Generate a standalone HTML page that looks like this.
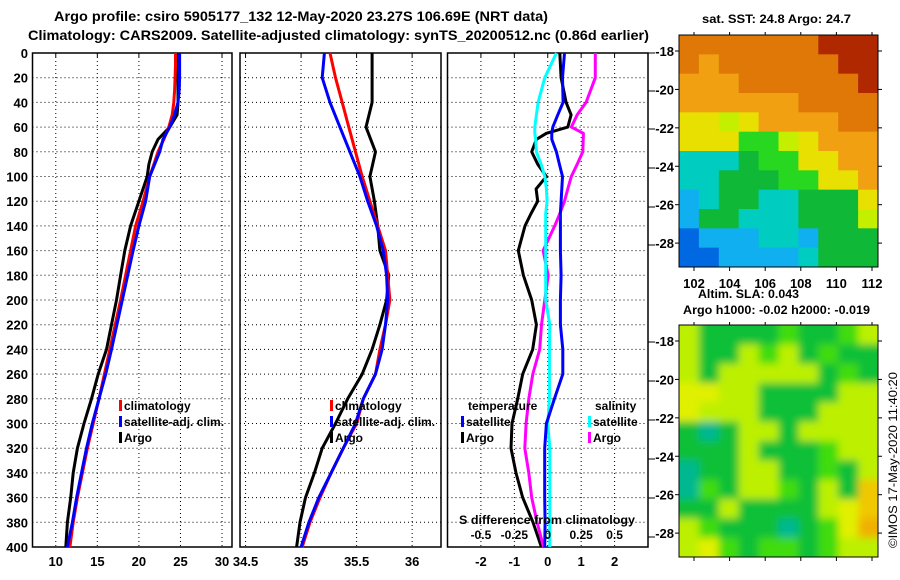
<!DOCTYPE html>
<html><head><meta charset="utf-8"><style>
body{margin:0;background:#fff}
svg{display:block;font-family:"Liberation Sans",sans-serif;font-weight:bold}
text{fill:#000}
</style></head><body>
<svg id="s" width="900" height="580" viewBox="0 0 900 580" xmlns="http://www.w3.org/2000/svg">
<defs>
<filter id="bl" x="-0.1" y="-0.1" width="1.2" height="1.2"><feGaussianBlur stdDeviation="4"/></filter>
<clipPath id="cl2"><rect x="679" y="325" width="199" height="232"/></clipPath>
</defs>
<rect width="900" height="580" fill="#fff"/>
<text x="54" y="21" font-size="14" textLength="494" lengthAdjust="spacingAndGlyphs">Argo profile: csiro 5905177_132 12-May-2020 23.27S 106.69E (NRT data)</text>
<text x="28" y="40" font-size="14" textLength="621" lengthAdjust="spacingAndGlyphs">Climatology: CARS2009. Satellite-adjusted climatology: synTS_20200512.nc (0.86d earlier)</text>
<g id="g"></g>
</svg>
<script>
// ---- Panel 1: temperature ----
const depthT=[0,10,20,30,40,50,60,70,80,90,100,120,140,160,180,200,220,240,260,280,300,320,340,360,380,400];
const tClim=[24.4,24.4,24.35,24.3,24.2,24.0,23.6,23.0,22.3,21.8,21.3,20.5,19.6,19.0,18.4,17.8,17.15,16.5,15.85,15.2,14.5,13.8,13.2,12.6,12.1,11.7];
const tSat=[24.9,24.9,24.9,24.85,24.7,24.3,23.7,22.9,22.5,21.9,21.3,20.8,20.0,19.3,18.65,18.0,17.35,16.7,16.0,15.2,14.4,13.7,13.1,12.5,12.0,11.4];
const tArgo=[24.7,24.7,24.7,24.7,24.7,24.6,23.7,22.3,21.6,21.2,21.0,20.0,19.0,18.3,17.8,17.3,16.7,16.1,15.1,14.3,13.4,12.6,12.1,11.8,11.4,11.2];
const tTicks=[10,15,20,25,30];
// ---- Panel 2: salinity ----
const depthS=[0,20,40,60,80,100,120,140,160,180,200,220,240,260,280,300,320,340,360,380,400];
const sClim=[35.26,35.31,35.37,35.43,35.49,35.55,35.62,35.69,35.76,35.78,35.80,35.76,35.71,35.67,35.56,35.50,35.38,35.27,35.17,35.08,35.01];
const sSat=[35.21,35.19,35.26,35.35,35.44,35.53,35.60,35.68,35.74,35.77,35.78,35.76,35.73,35.67,35.56,35.49,35.38,35.27,35.16,35.07,35.0];
const sArgo=[35.64,35.64,35.64,35.585,35.67,35.62,35.66,35.69,35.71,35.79,35.77,35.71,35.64,35.55,35.42,35.31,35.19,35.12,35.04,34.99,34.96];
const sTicks=[34.5,35,35.5,36];
// ---- Panel 3: differences ----
const depthD=[0,20,40,50,60,65,70,80,90,100,110,120,130,140,160,180,200,220,240,260,280,300,320,340,360,380,400];
const dTSat=[0.5,0.44,0.46,0.3,0.15,0.12,0.12,0.26,0.35,0.44,0.42,0.4,0.38,0.38,0.38,0.4,0.38,0.38,0.45,0.45,0.2,-0.04,-0.09,-0.09,-0.09,-0.08,-0.09];
const dTArgo=[0.36,0.4,0.55,0.7,0.6,-0.04,-0.34,-0.48,-0.3,-0.04,-0.35,-0.3,-0.5,-0.68,-0.88,-0.73,-0.48,-0.34,-0.45,-0.75,-0.9,-1.07,-1.1,-0.95,-0.75,-0.44,-0.19];
const dSSat=[0.065,-0.022,-0.072,-0.085,-0.097,-0.097,-0.09,-0.085,-0.05,-0.022,-0.01,-0.005,-0.015,-0.015,-0.015,-0.015,-0.015,0.015,0.012,0.012,0.012,0,0.015,0.015,0.015,0.015,0.015];
const dSArgo=[0.356,0.356,0.287,0.22,0.176,0.267,0.265,0.262,0.22,0.176,0.15,0.125,0.09,0.052,-0.035,0.003,-0.022,-0.047,-0.06,-0.112,-0.142,-0.162,-0.172,-0.142,-0.12,-0.08,-0.032];
const dTicks=[-2,-1,0,1,2];
const dSTicks=["-0.5","-0.25","0","0.25","0.5"];
const depthTicks=[0,20,40,60,80,100,120,140,160,180,200,220,240,260,280,300,320,340,360,380,400];
// ---- maps ----
const sstGrid=["OOOOOOORRR","OoOOOOOORR","oooOOOOOOR","ooooooOOOO","YYyYooooOO","YYYggyYooo","CCCGggYYoo","CCGGGggYYo","BCGGCCGGGY","BGGCCCGGGy","DBBBCCBGGG","DDBBBBCGGG"];
const slaGrid=["yGGGGgGGgy","yGGygyGgGG","yGyyyyyGgG","YYyyGGGGyy","YyyyGGGyyy","GCGyyGyyyy","GGGyGGGgyy","CGGyyGGgGy","CgGyygGyGo","GGyGGGGyYo","ygGGGCGgYO","yYgGggGgyy"];
const lonTicks=[102,104,106,108,110,112];
const latTicks=[-18,-20,-22,-24,-26,-28];

const NS="http://www.w3.org/2000/svg";
const G=document.getElementById('g');
function mk(tag,at,parent){const e=document.createElementNS(NS,tag);for(const k in at)e.setAttribute(k,at[k]);(parent||G).appendChild(e);return e;}
const Y0=53,YK=1.235;
function yD(d){return Y0+d*YK;}
function lin(d0,d1,p0,p1){return v=>p0+(v-d0)*(p1-p0)/(d1-d0);}
const panels=[
 {x0:32.5,x1:232,sc:lin(7.2,31.2,32.5,232),ticks:tTicks,name:'temperature-panel'},
 {x0:240,x1:441,sc:lin(34.45,36.26,240,441),ticks:sTicks,name:'salinity-panel'},
 {x0:447.5,x1:648,sc:lin(-3,3,447.5,648),ticks:dTicks,name:'difference-panel'}];
panels.forEach((p,i)=>{
  const g=mk('g',{});
  
  
  p.g=g;
  depthTicks.forEach(d=>{const l=mk('line',{x1:p.x0,x2:p.x1,y1:yD(d),y2:yD(d),stroke:'#000','stroke-width':1,'stroke-dasharray':'1,3'},g);
    });
  p.ticks.forEach((t,j)=>{const x=p.sc(t);
    const l=mk('line',{x1:x,x2:x,y1:Y0,y2:yD(400),stroke:'#000','stroke-width':1,'stroke-dasharray':'1,3'},g);
    
    mk('line',{x1:x,x2:x,y1:Y0,y2:Y0+4,stroke:'#000'},g);
    const tx=mk('text',{x:x,y:566,'font-size':13,'text-anchor':'middle'},g);tx.textContent=String(t);
    
  });
  const fr=mk('rect',{x:p.x0,y:Y0,width:p.x1-p.x0,height:yD(400)-Y0,fill:'none',stroke:'#000','stroke-width':1.5},g);
  
});
depthTicks.forEach(d=>{const t=mk('text',{x:28,y:yD(d)+5,'font-size':13,'text-anchor':'end'});t.textContent=d;
  });
function series(p,depths,vals,col,name,mul){
  const pts=depths.map((d,i)=>p.sc(vals[i]*(mul||1)).toFixed(1)+','+yD(d).toFixed(1)).join(' ');
  const e=mk('polyline',{points:pts,fill:'none',stroke:col,'stroke-width':3,'stroke-linejoin':'round'},p.g);
  
  
}
series(panels[0],depthT,tArgo,'#000','temp-argo-line');
series(panels[0],depthT,tClim,'#f00','temp-climatology-line');
series(panels[0],depthT,tSat,'#00f','temp-satellite-line');
series(panels[1],depthS,sArgo,'#000','sal-argo-line');
series(panels[1],depthS,sClim,'#f00','sal-climatology-line');
series(panels[1],depthS,sSat,'#00f','sal-satellite-line');
series(panels[2],depthD,dTArgo,'#000','tdiff-argo-line');
series(panels[2],depthD,dSArgo,'#f0f','sdiff-argo-line',4);
series(panels[2],depthD,dSSat,'#0ff','sdiff-satellite-line',4);
series(panels[2],depthD,dTSat,'#00f','tdiff-satellite-line');
dSTicks.forEach(t=>{const x=panels[2].sc(parseFloat(t)*4);const e=mk('text',{x:x,y:539,'font-size':12,'text-anchor':'middle'});e.textContent=t;
  });
{const e=mk('text',{x:459,y:524,'font-size':12,textLength:176,lengthAdjust:'spacingAndGlyphs'});e.textContent='S difference from climatology';
 }
[53,91,129,168,207,245,342,381,420,459,498,537].forEach(y=>mk('line',{x1:648,x2:655,y1:y,y2:y,stroke:'#000'}));
function leg(x,y,col,txt,name){
  if(col){const m=mk('rect',{x:x,y:y-9,width:3,height:11,fill:col});}
  const t=mk('text',{x:x+(col?5:0),y:y+1,'font-size':12});t.textContent=txt;
  
}
leg(119,409,'#f00','climatology','legend-climatology');
leg(119,425,'#00f','satellite-adj. clim.','legend-satellite-adj');
leg(119,441,'#000','Argo','legend-argo');
leg(330,409,'#f00','climatology','legend2-climatology');
leg(330,425,'#00f','satellite-adj. clim.','legend2-satellite-adj');
leg(330,441,'#000','Argo','legend2-argo');
leg(468,409,null,'temperature','legend-temperature-header');
leg(461,425,'#00f','satellite','legend-temp-satellite');
leg(461,441,'#000','Argo','legend-temp-argo');
leg(595,409,null,'salinity','legend-salinity-header');
leg(588,425,'#0ff','satellite','legend-sal-satellite');
leg(588,441,'#f0f','Argo','legend-sal-argo');
const COL={R:'#b02800',O:'#e07808',o:'#f0a010',Y:'#e8e000',y:'#c4f000',G:'#10b838',g:'#28d820',C:'#00ccc0',B:'#10b0f0',D:'#0068e0'};
const COL2={R:'#b02800',O:'#f0b000',o:'#f0c800',Y:'#e0f000',y:'#bcf000',G:'#10c038',g:'#40dc10',C:'#00b890',B:'#10b0f0',D:'#0068e0'};
const lonS=lin(102,112,694,872);
function map(top,bot,grid,cols,name,blur){
  const g=mk('g',{});
  const L=679,R=878,nr=grid.length,nc=grid[0].length,cw=(R-L)/nc,ch=(bot-top)/nr;
  let cg=g;
  if(blur){const outer=mk('g',{'clip-path':'url(#cl2)'},g);mk('rect',{x:L,y:top,width:R-L,height:bot-top,fill:'#6ad818'},outer);cg=mk('g',{filter:'url(#bl)'},outer);}
  grid.forEach((row,r)=>{for(let c=0;c<nc;c++){
    const x=L+c*cw-(blur&&c==0?8:0),y=top+r*ch-(blur&&r==0?8:0);
    const w=cw+0.5+(blur&&(c==0||c==nc-1)?8:0),h=ch+0.5+(blur&&(r==0||r==nr-1)?8:0);
    mk('rect',{x:x,y:y,width:w,height:h,fill:cols[row[c]]},cg);}});
  mk('rect',{x:L,y:top,width:R-L,height:bot-top,fill:'none',stroke:'#000'},g);
  const latS=lin(-18,-28,top+(bot-top)*0.069,top+(bot-top)*0.897);
  latTicks.forEach(v=>{const y=latS(v);const t=mk('text',{x:674,y:y+5,'font-size':13,'text-anchor':'end'},g);t.textContent=v;
    
    mk('line',{x1:L,x2:L-4,y1:y,y2:y,stroke:'#000'},g);mk('line',{x1:R,x2:R+4,y1:y,y2:y,stroke:'#000'},g);});
  lonTicks.forEach(v=>{const x=lonS(v);mk('line',{x1:x,x2:x,y1:top,y2:top-3,stroke:'#000'},g);mk('line',{x1:x,x2:x,y1:bot,y2:bot+4,stroke:'#000'},g);});
  return g;
}
map(35,267,sstGrid,COL,'sst-map',false);
map(325,557,slaGrid,COL2,'sla-map',true);
lonTicks.forEach(v=>{const t=mk('text',{x:lonS(v),y:288,'font-size':13,'text-anchor':'middle'});t.textContent=v;
  });
function txt(x,y,s,name,len){const t=mk('text',{x:x,y:y,'font-size':12,textLength:len,lengthAdjust:'spacingAndGlyphs'});t.textContent=s;
  }
txt(702,23,'sat. SST: 24.8 Argo: 24.7','sst-map-title',149);
txt(698,298,'Altim. SLA: 0.043','sla-map-title',101);
txt(683,314,'Argo h1000: -0.02 h2000: -0.019','argo-height-label',187);
{const t=mk('text',{x:0,y:0,'font-size':12,transform:'translate(897,548) rotate(-90)',textLength:176,lengthAdjust:'spacingAndGlyphs','font-weight':'normal'});
 t.textContent='©IMOS 17-May-2020 11:40:20';}
</script>
</body></html>
